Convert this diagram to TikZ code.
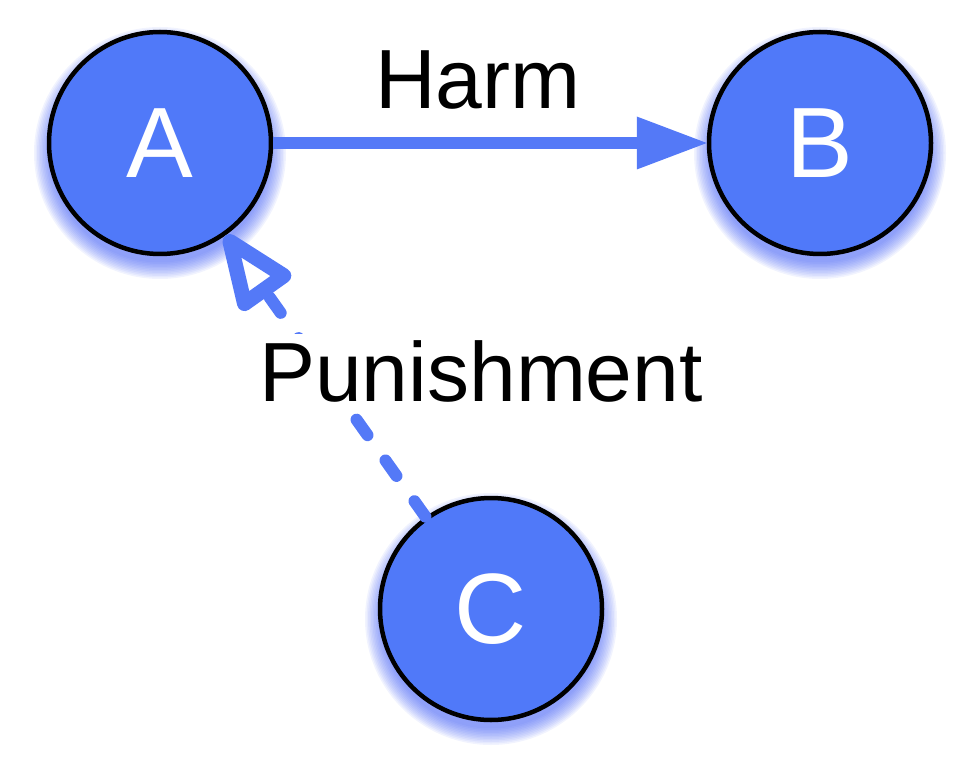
\documentclass[tikz,border=0pt]{standalone}
\usepackage{fontspec}
\setmainfont{Liberation Sans}
\usetikzlibrary{arrows.meta}
\definecolor{nodeblue}{HTML}{5079F9}
\definecolor{lineblue}{HTML}{5479F7}
\definecolor{glowblue}{HTML}{3F5CF5}
\tikzset{
  agent/.style={circle, draw=black, line width=4.5pt, fill=nodeblue, minimum size=222pt, inner sep=0pt,
    text=white, font=\fontsize{100}{110}\selectfont},
  lbl/.style={font=\fontsize{84}{96}\selectfont, text=black, anchor=base},
  harmline/.style={draw=lineblue, line width=12pt, -{Triangle[length=70pt,width=53pt,line width=0pt]}},
  punline/.style={draw=lineblue, line width=12pt, line cap=round, dash pattern=on 19pt off 31pt,
    -{Triangle[open,length=88pt,width=66pt,line width=15pt 0,round=false]}},
}
\begin{document}
\begin{tikzpicture}[x=1pt,y=-1pt]
\useasboundingbox (0,0) rectangle (979,783);
% glow
\foreach \cx/\cy in {160/143, 820/143, 491/609}{
  \foreach \k in {1,...,12}{
    \fill[glowblue, fill opacity=0.07] (\cx,\cy+10) circle ({108+1.5*\k});
  }
}
\node[agent] (A) at (160,143) {A};
\node[agent] (B) at (820,143) {B};
\node[agent] (C) at (491,609) {C};
\draw[harmline] (A) -- (B);
\draw[punline] (C) -- (A);
\node[lbl] (harm) at (478,109) {Harm};
\node[lbl, fill=white, inner sep=6pt] (pun) at (481,401) {Punishment};
\end{tikzpicture}
\end{document}
